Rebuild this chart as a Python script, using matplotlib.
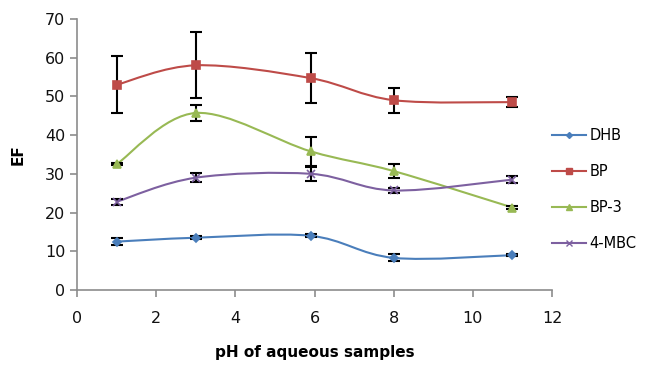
import matplotlib
matplotlib.use("Agg")
import matplotlib.pyplot as plt
from matplotlib.path import Path
from matplotlib.patches import PathPatch
from matplotlib.lines import Line2D

ph = [1, 3, 5.9, 8, 11]
series_names = ["DHB", "BP", "BP-3", "4-MBC"]
dhb = [12.5, 13.5, 14.0, 8.3, 9.0]
dhb_err = [1.0, 0.4, 0.4, 0.9, 0.3]
bp = [53.0, 58.0, 54.7, 49.0, 48.5]
bp_err = [7.3, 8.5, 6.5, 3.2, 1.2]
bp3 = [32.5, 45.7, 35.8, 30.7, 21.3]
bp3_err = [0.3, 2.0, 3.8, 1.9, 0.3]
mbc = [22.8, 29.0, 30.0, 25.7, 28.5]
mbc_err = [0.8, 1.2, 1.8, 0.7, 1.0]

colors = ["#4A7EBB", "#BE4B48", "#98B954", "#7D60A0"]
markers = ["D", "s", "^", "x"]
msizes = [4, 6, 6, 6]

fig = plt.figure(figsize=(6.54, 3.69), dpi=100)
ax = fig.add_axes([0.118, 0.214, 0.726, 0.735])


def smooth_path(x, y, t=1/6):
    verts = [(x[0], y[0])]
    codes = [Path.MOVETO]
    n = len(x)
    for i in range(n - 1):
        x0, y0 = (x[i - 1], y[i - 1]) if i > 0 else (x[i], y[i])
        x1, y1 = x[i], y[i]
        x2, y2 = x[i + 1], y[i + 1]
        x3, y3 = (x[i + 2], y[i + 2]) if i + 2 < n else (x[i + 1], y[i + 1])
        c1 = (x1 + (x2 - x0) * t, y1 + (y2 - y0) * t)
        c2 = (x2 - (x3 - x1) * t, y2 - (y3 - y1) * t)
        verts += [c1, c2, (x2, y2)]
        codes += [Path.CURVE4] * 3
    return Path(verts, codes)


data = [(dhb, dhb_err), (bp, bp_err), (bp3, bp3_err), (mbc, mbc_err)]
handles = []
for (vals, errs), c, m, ms, name in zip(data, colors, markers, msizes, series_names):
    patch = PathPatch(smooth_path(ph, vals), facecolor="none", edgecolor=c, lw=1.5, zorder=2)
    ax.add_patch(patch)
    ax.errorbar(ph, vals, yerr=errs, fmt="none", ecolor="black", elinewidth=1.5,
                capsize=4, capthick=1.5, zorder=3)
    ax.plot(ph, vals, linestyle="none", marker=m, color=c, markersize=ms,
            markeredgewidth=1.2, zorder=4)
    handles.append(Line2D([0], [0], color=c, lw=1.5, marker=m, markersize=ms - 1))

ax.set_xlim(0, 12)
ax.set_ylim(0, 70)
ax.set_xticks(range(0, 13, 2))
ax.set_yticks(range(0, 71, 10))
for s in ["top", "right"]:
    ax.spines[s].set_visible(False)
for s in ["left", "bottom"]:
    ax.spines[s].set_color("#8C8C8C")
    ax.spines[s].set_linewidth(1.2)
ax.tick_params(axis="both", direction="out", color="#8C8C8C", width=1.2, length=5,
               labelsize=11.5, labelcolor="#111111")
ax.tick_params(axis="x", pad=10)
ax.set_xlabel("pH of aqueous samples", fontsize=11, fontweight="bold", labelpad=14)
ax.set_ylabel("EF", fontsize=11, fontweight="bold", labelpad=14)

fig.legend(handles, series_names, loc="upper left", bbox_to_anchor=(0.838, 0.665),
           frameon=False, fontsize=10.5, handlelength=2.3, labelspacing=1.45,
           handletextpad=0.25, borderaxespad=0, borderpad=0.3)

fig.savefig("out.png", dpi=100)
